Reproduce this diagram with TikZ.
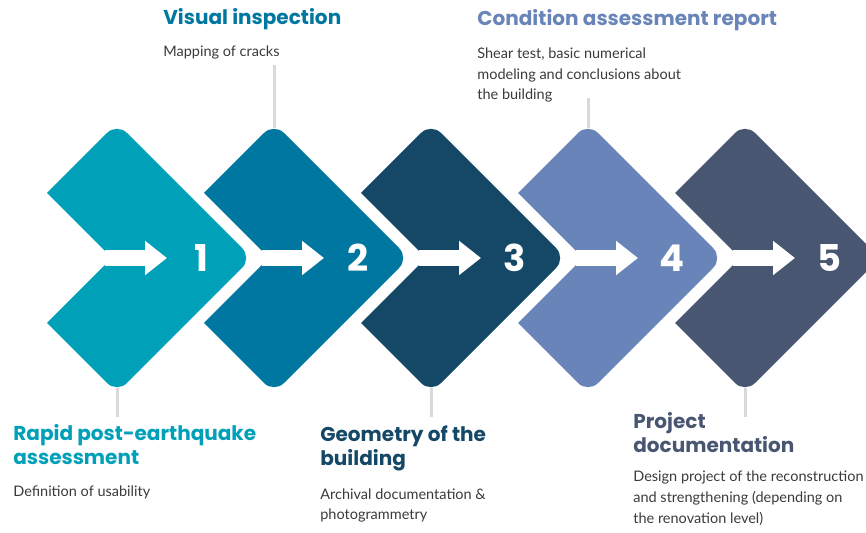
\documentclass[tikz,border=0pt]{standalone}
\usepackage{fontspec}
\setmainfont{Lato}
\newfontfamily\headfont{Poppins}
\usetikzlibrary{arrows.meta}
\definecolor{stepA}{HTML}{00A0B9}
\definecolor{stepB}{HTML}{0077A0}
\definecolor{stepC}{HTML}{144866}
\definecolor{stepD}{HTML}{6884B8}
\definecolor{stepE}{HTML}{485672}
\definecolor{leadgray}{HTML}{D9D9D9}
\definecolor{bodygray}{HTML}{3A3A3A}
\begin{document}
\begin{tikzpicture}[x=0.02cm, y=-0.02cm,
pics/chevron/.style={code={\fill[#1] (-70,-65) [rounded corners=8pt] -- (0,-135) -- (135,0) -- (0,135) [sharp corners] -- (-70,65) -- (-5,0) -- cycle;}},
flow/.style={white, line width=0.32cm, -{Triangle[length=0.44cm,width=0.66cm]}},
leader/.style={draw=leadgray, line width=0.06cm},
num/.style={text=white, font=\headfont\bfseries\fontsize{21}{21}\selectfont},
title/.style={anchor=base west, align=left, inner sep=0pt, font=\headfont\bfseries\fontsize{11.4}{14}\selectfont},
body/.style={anchor=base west, align=left, inner sep=0pt, text=bodygray, font=\fontsize{8.25}{11.8}\selectfont}]
\useasboundingbox (0,0) rectangle (866,533);
\clip (0,0) rectangle (866,533);
% leaders
\coordinate (b1) at (117,388); \coordinate (e1) at (117,417);
\coordinate (b2) at (274,128); \coordinate (e2) at (274,65);
\coordinate (b3) at (431,388); \coordinate (e3) at (431,417);
\coordinate (b4) at (588,128); \coordinate (e4) at (588,98);
\coordinate (b5) at (745,388); \coordinate (e5) at (745,417);
\draw[leader] (b1) -- (e1);
\draw[leader] (b2) -- (e2);
\draw[leader] (b3) -- (e3);
\draw[leader] (b4) -- (e4);
\draw[leader] (b5) -- (e5);
% chevrons
\pic at (117,258) {chevron=stepA};
\pic at (274,258) {chevron=stepB};
\pic at (431,258) {chevron=stepC};
\pic at (588,258) {chevron=stepD};
\pic at (745,258) {chevron=stepE};
% arrows and numbers
\coordinate (n1) at (105,258); \coordinate (a1) at (167,258);
\coordinate (n2) at (262,258); \coordinate (a2) at (324,258);
\coordinate (n3) at (419,258); \coordinate (a3) at (481,258);
\coordinate (n4) at (576,258); \coordinate (a4) at (638,258);
\coordinate (n5) at (733,258); \coordinate (a5) at (795,258);
\draw[flow] (n1) -- (a1);
\draw[flow] (n2) -- (a2);
\draw[flow] (n3) -- (a3);
\draw[flow] (n4) -- (a4);
\draw[flow] (n5) -- (a5);
\node[num] (k1) at (201,258) {1};
\node[num] (k2) at (358,258) {2};
\node[num] (k3) at (515,258) {3};
\node[num] (k4) at (672,258) {4};
\node[num] (k5) at (829,258) {5};
% texts (anchored at the baseline of the last line)
\node[title, text=stepA] (t1) at (13,465) {Rapid post-earthquake\\assessment};
\node[body] (d1) at (13,497) {Definition of usability};
\node[title, text=stepB] (t2) at (163,25) {Visual inspection};
\node[body] (d2) at (163,57) {Mapping of cracks};
\node[title, text=stepC] (t3) at (320,466) {Geometry of the\\building};
\node[body] (d3) at (320,520) {Archival documentation \&\\photogrammetry};
\node[title, text=stepD] (t4) at (477,26) {Condition assessment report};
\node[body] (d4) at (477,100) {Shear test, basic numerical\\modeling and conclusions about\\the building};
\node[title, text=stepE] (t5) at (633,453) {Project\\documentation};
\node[body] (d5) at (633,523) {Design project of the reconstruction\\and strengthening (depending on\\the renovation level)};
\end{tikzpicture}
\end{document}
